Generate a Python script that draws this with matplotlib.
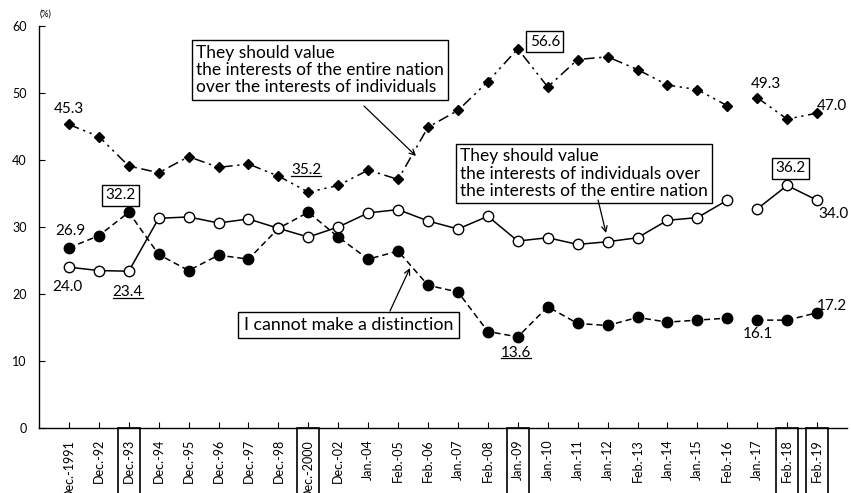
import matplotlib

matplotlib.use("Agg")
import matplotlib.pyplot as plt  # noqa: E402
import matplotlib.transforms as mtransforms  # noqa: E402
from matplotlib.lines import Line2D  # noqa: E402
from matplotlib.patches import Rectangle  # noqa: E402

plt.rcParams["font.family"] = ["Lato", "DejaVu Sans"]

periods = ["Dec.-1991", "Dec.-92", "Dec.-93", "Dec.-94", "Dec.-95", "Dec.-96", "Dec.-97",
           "Dec.-98", "Dec.-2000", "Dec.-02", "Jan.-04", "Feb.-05", "Feb.-06", "Jan.-07",
           "Feb.-08", "Jan.-09", "Jan.-10", "Jan.-11", "Jan.-12", "Feb.-13", "Jan.-14",
           "Jan.-15", "Feb.-16", "Jan.-17", "Feb.-18", "Feb.-19"]
nation = [45.3, 43.5, 39.1, 38.1, 40.5, 38.9, 39.4, 37.6, 35.2, 36.2, 38.5, 37.1, 44.9,
          47.4, 51.7, 56.6, 50.9, 55.0, 55.4, 53.5, 51.2, 50.5, 48.1, 49.3, 46.1, 47.0]
individuals = [24.0, 23.5, 23.4, 31.3, 31.5, 30.6, 31.2, 29.8, 28.5, 30.0, 32.1, 32.6, 30.9,
               29.7, 31.6, 27.9, 28.4, 27.4, 27.8, 28.4, 31.0, 31.4, 34.0, 32.7, 36.2, 34.0]
cannot = [26.9, 28.7, 32.2, 25.9, 23.5, 25.8, 25.2, 29.8, 32.2, 28.5, 25.2, 26.4, 21.3,
          20.3, 14.4, 13.6, 18.1, 15.6, 15.3, 16.5, 15.8, 16.1, 16.4, 16.1, 16.1, 17.2]
boxed_ticks = ["Dec.-93", "Dec.-2000", "Jan.-09", "Feb.-18", "Feb.-19"]
new_method_from = "Jan.-17"  # survey lines are not joined across this point

label_nation = "They should value\nthe interests of the entire nation\nover the interests of individuals"
label_indiv = "They should value\nthe interests of individuals over\nthe interests of the entire nation"
label_cannot = "I cannot make a distinction"

x = list(range(len(periods)))
cut = periods.index(new_method_from)

fig = plt.figure(figsize=(8.51, 4.93), dpi=100)
ax = fig.add_axes([39 / 851, 1 - 428 / 493, 808 / 851, 402 / 493])

dashdotdot = (0, (7, 3, 1.5, 3, 1.5, 3))
for seg in (slice(0, cut), slice(cut, None)):
    ax.plot(x[seg], nation[seg], color="black", lw=1.1, ls=dashdotdot,
            marker="D", ms=5.5, mfc="black", mec="black")
    ax.plot(x[seg], cannot[seg], color="black", lw=1.1, ls=(0, (4, 2.5)),
            marker="o", ms=7.5, mfc="black", mec="black")
    ax.plot(x[seg], individuals[seg], color="black", lw=1.1, ls="-",
            marker="o", ms=7.5, mfc="white", mec="black", mew=1.0, zorder=3)

ax.set_xlim(-1, 26)
ax.set_ylim(0, 60)
ax.set_yticks(range(0, 61, 10))
ax.set_xticks(x)
ax.set_xticklabels(periods, rotation=90, fontsize=9)
ax.tick_params(axis="y", direction="in", length=4, labelsize=9, pad=9)
ax.tick_params(axis="x", direction="in", length=4, pad=8)
for s in ("top", "right"):
    ax.spines[s].set_visible(False)
for s in ("left", "bottom"):
    ax.spines[s].set_linewidth(1.0)
fig.text(40 / 851, 1 - 14 / 493, "(%)", fontsize=6.5, ha="left", va="center")

# boxes round the highlighted survey dates
trans = mtransforms.blended_transform_factory(ax.transData, ax.transAxes)
for p in boxed_ticks:
    i = periods.index(p)
    ax.add_patch(Rectangle((i - 0.37, -0.3), 0.74, 0.3, transform=trans, fill=False,
                           lw=1.2, ec="black", clip_on=False))

series = {"nation": nation, "individuals": individuals, "cannot": cannot}
# (series, period, text, dx px, dy px, style)
value_labels = [
    ("nation", "Dec.-1991", "45.3", 0, 15, ""),
    ("cannot", "Dec.-1991", "26.9", 1, 17, ""),
    ("individuals", "Dec.-1991", "24.0", -2, -20, ""),
    ("cannot", "Dec.-93", "32.2", -8, 17, "box"),
    ("individuals", "Dec.-93", "23.4", -1, -21, "under"),
    ("nation", "Dec.-2000", "35.2", -2, 22, "under"),
    ("nation", "Jan.-09", "56.6", 27, 7, "box"),
    ("cannot", "Jan.-09", "13.6", -2, -16, "under"),
    ("nation", "Jan.-17", "49.3", 9, 14, ""),
    ("cannot", "Jan.-17", "16.1", 1, -14, ""),
    ("individuals", "Feb.-18", "36.2", 3, 17, "box"),
    ("nation", "Feb.-19", "47.0", 15, 7, ""),
    ("individuals", "Feb.-19", "34.0", 16, -14, ""),
    ("cannot", "Feb.-19", "17.2", 15, 7, ""),
]
underlined = []
for name, p, txt, dx, dy, style in value_labels:
    i = periods.index(p)
    kw = {}
    if style == "box":
        kw["bbox"] = dict(boxstyle="square,pad=0.22", fc="white", ec="black", lw=1.0)
    t = ax.annotate(txt, (i, series[name][i]), xytext=(dx, dy), textcoords="offset pixels",
                    ha="center", va="center", fontsize=11, **kw)
    if style == "under":
        underlined.append(t)


def px(xp, yp):
    return (xp - 69) / 29.92, (428 - yp) / 6.7


box_kw = dict(boxstyle="square,pad=0.25", fc="white", ec="black", lw=1.0)
arrow_kw = dict(arrowstyle="->", lw=0.9, color="black", shrinkA=0, shrinkB=0)

ax.text(*px(196, 70), label_nation, ha="left", va="center", fontsize=12.5,
        linespacing=1.1, bbox=box_kw)
ax.annotate("", xy=px(416, 156), xytext=px(364, 106), arrowprops=arrow_kw)

ax.text(*px(460, 173.5), label_indiv, ha="left", va="center", fontsize=12.5,
        linespacing=1.1, bbox=box_kw)
ax.annotate("", xy=px(606, 233), xytext=px(598, 200), arrowprops=arrow_kw)

ax.text(*px(348.5, 325), label_cannot, ha="center", va="center", fontsize=12.8,
        bbox=dict(boxstyle="square,pad=0.3", fc="white", ec="black", lw=1.0))
ax.annotate("", xy=px(410, 268), xytext=px(390, 311), arrowprops=arrow_kw)

# underline the record-low labels
fig.canvas.draw()
renderer = fig.canvas.get_renderer()
for t in underlined:
    bb = t.get_window_extent(renderer)
    yb = bb.y0 + 1.5
    fig.add_artist(Line2D([bb.x0, bb.x1], [yb, yb], transform=None, color="black", lw=0.9))

fig.savefig("out.png", dpi=100)
